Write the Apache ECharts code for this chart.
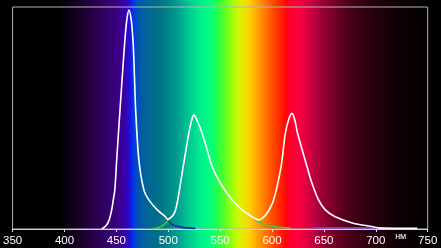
<!DOCTYPE html>
<html>
<head>
<meta charset="utf-8">
<script src="https://cdn.jsdelivr.net/npm/echarts@6/dist/echarts.min.js"></script>
<style>
html,body{margin:0;padding:0;background:#000;}
#c{width:441px;height:248px;}
</style>
</head>
<body>
<div id="c"></div>
<script>
// Wavelength ticks (nm)
const xTicks = [350, 400, 450, 500, 550, 600, 650, 700, 750];
const unitLabel = 'нм';

// Total spectrum (white curve): [wavelength nm, relative intensity]
const totalSpectrum = [
  [436,0],[440,1.5],[443,4],[445.5,8.6],[447,13],[448.5,17.6],[450.3,31],
  [453.5,53.6],[456.8,76],[458.2,85],[460,94],[462.1,98.6],[464.4,94],
  [466,85],[466.9,76],[468.6,53.6],[471.7,31],[476.5,17.6],[481.3,13.1],
  [489.4,8.6],[497.4,5.5],[499.5,4.3],[502,5],[504.8,6.3],[507,8.6],
  [509.2,13.1],[514.4,28.1],[519.8,43.1],[522.3,48.5],[524.6,51.4],
  [527.2,49.5],[532.7,43.1],[537.5,35.6],[542.3,28.1],[550.3,20.6],
  [561.5,13.1],[571.2,8.6],[580.8,5.5],[587,4.1],[590.4,4.8],[595.2,7.1],
  [601.5,13.1],[608.7,28.1],[612.8,43.1],[616.2,49.5],[619.2,52.1],
  [622,49],[624.6,43.1],[633.7,28.1],[638.5,20.6],[644.8,13.1],[651.3,8.6],
  [660.9,5.5],[678,2.6],[695,1.2],[706,0.4],[740,0.3]
];
// Blue LED component tail (visible below the white curve)
const blueTail = [[497.4,5.5],[499.5,4.3],[503,2.2],[508,1.3],[515,0.6],[526,0.3]];
// Green component, rising edge and falling tail
const greenLeft = [[485,0.2],[490,0.6],[495,1.6],[499,3.3],[502,5]];
const greenRight = [[580.8,5.5],[585,3.8],[589,2.8],[595,1.7],[601.5,1.2],[610,0.7],[618,0.4]];
// Faint violet line along baseline
const violetBase = [[640,0.45],[706,0.45]];

// Background spectrum colours by wavelength
const specNm = [350,395,400,410,420,430,440,450,458,463,466,470,478,490,500,510,520,530,540,548,555,563,570,578,586,594,602,609,614,619,627,637,646,656,666,678,694,711,726,742,750];
const specColor = ['#000000','#000000','#06000c','#12001f','#1e0034','#28004c','#320064','#3a0080','#3a00a8','#2010d8','#0034f0','#0050b8','#00649a','#007088','#00848a','#00a290','#00c890','#00ec90','#00ff80','#28ff48','#60ff20','#a8ff08','#e0f000','#ffd000','#ffa200','#ff7400','#ff4400','#ff2000','#ff0010','#ff0034','#f80040','#d00040','#a40036','#82002a','#620020','#420016','#2a0010','#180008','#0c0004','#060002','#000000'];

const chart = echarts.init(document.getElementById('c'));
const lineBase = {type:'line', showSymbol:false, silent:true, smooth:0.3, animation:false};
chart.setOption({
  backgroundColor:'#000',
  animation:false,
  grid:{left:11.7, right:13.3, top:7, bottom:19, show:true, borderColor:'#b4b4b4', borderWidth:1, backgroundColor:'transparent'},
  xAxis:{
    type:'value', min:xTicks[0], max:xTicks[xTicks.length-1], interval:50,
    axisLine:{show:true, lineStyle:{color:'#d2d2d2', width:1}},
    axisTick:{show:true, length:3, lineStyle:{color:'#e0e0e0'}},
    axisLabel:{color:'#ffffff', fontSize:11.5, fontFamily:'Liberation Sans, Arial, sans-serif', margin:6, showMaxLabel:true, showMinLabel:true},
    splitLine:{show:false}
  },
  yAxis:{type:'value', min:0, max:100, show:false, splitLine:{show:false}},
  series:[
    Object.assign({}, lineBase, {name:'violet', data:violetBase, smooth:false, lineStyle:{color:'#7458e0', width:1.5}, z:3}),
    Object.assign({}, lineBase, {name:'blue', data:blueTail, lineStyle:{color:'#1a2cb0', width:1.6}, z:3}),
    Object.assign({}, lineBase, {name:'greenL', data:greenLeft, lineStyle:{color:'#4cc832', width:1.5}, z:3}),
    Object.assign({}, lineBase, {name:'greenR', data:greenRight, lineStyle:{color:'#4cc832', width:1.5}, z:3}),
    Object.assign({}, lineBase, {name:'total', data:totalSpectrum, lineStyle:{color:'#ffffff', width:1.6}, z:4})
  ]
});

const W = chart.getWidth(), H = chart.getHeight();
const stops = specNm.map((nm,i)=>{
  let px = chart.convertToPixel({xAxisIndex:0}, nm);
  return {offset: Math.max(0, Math.min(1, px / W)), color: specColor[i]};
});
const unitPos = chart.convertToPixel({xAxisIndex:0, yAxisIndex:0}, [724, 0]);
chart.setOption({
  graphic:[
    {type:'rect', z:-10, silent:true, shape:{x:0, y:0, width:W, height:H},
     style:{fill:new echarts.graphic.LinearGradient(0,0,1,0,stops)}},
    {type:'text', z:10, silent:true, x:unitPos[0], y:unitPos[1]+8,
     style:{text:unitLabel, fill:'#ffffff', font:'9px "Liberation Sans", Arial, sans-serif', align:'center', verticalAlign:'middle'}}
  ]
});
</script>
</body>
</html>
